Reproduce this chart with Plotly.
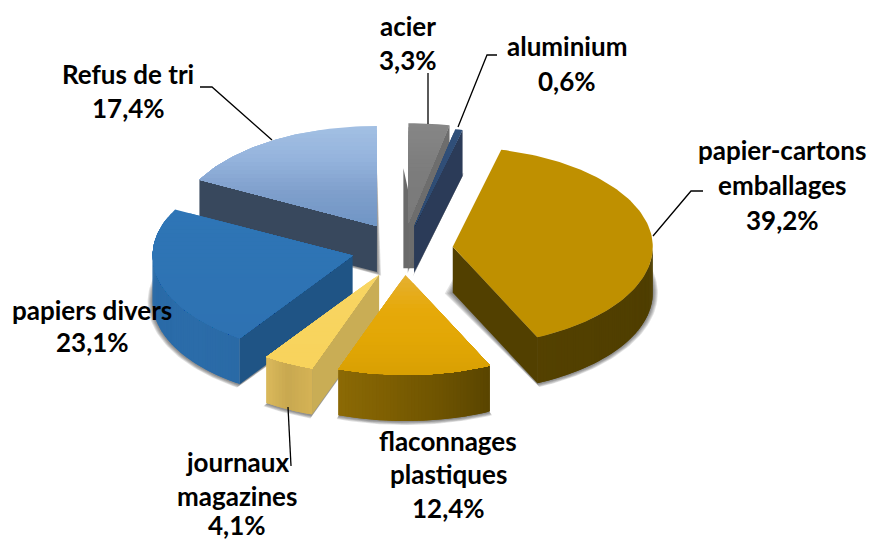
import math
import plotly.graph_objects as go

# ---- data ----
categories = ["acier", "aluminium", "papier-cartons emballages", "flaconnages plastiques",
              "journaux magazines", "papiers divers", "Refus de tri"]
values = [3.3, 0.6, 39.2, 12.4, 4.1, 23.1, 17.4]
pulls = [52, 45, 48, 52, 57, 54, 54]

# ---- label layout: lines of name, then centre x and the y of each line ----
label_lines = [["acier"], ["aluminium"], ["papier-cartons", "emballages"], ["flaconnages", "plastiques"],
               ["journaux", "magazines"], ["papiers divers"], ["Refus de tri"]]
label_x = [408, 567, 782, 448, 237, 92, 128]
label_y = [[26, 60], [46, 81], [150, 185, 220], [441, 474, 508], [462, 496, 525], [310, 342], [74, 108]]
leaders = [[(428, 73), (428, 124)], [(497, 55), (487, 55), (458, 127)], [(703, 191), (691, 191), (653, 236)],
           [(288, 407), (291, 466)], [(200, 87), (212, 87), (272, 140)]]

# ---- styling: projection and colours ----
W, H = 872, 542
CX, CY, RX, RY, DEPTH = 405, 249, 200, 100, 46
nudge_x = [-2, -1, 0, -2, 0, 0, 0]
top_stops = [["#868686", "#7c7c7c", "#7a7a7a"], ["#30507a", "#2f4a70"], ["#bf9000", "#bf9000"],
             ["#e5b030", "#e6a90a", "#e2a705", "#d9a003"], ["#f8d562", "#f8d35c"], ["#2e75b6", "#2e72b2"],
             ["#a2bfe3", "#94b3dc", "#7f9fcc", "#7096c5"]]
wall_stops = [["#6a6a6a", "#6a6a6a"], ["#2b3b58", "#2b3b58"], ["#544100", "#4f3e00"],
              ["#8c6a05", "#7e5f02", "#6f5401", "#5a4500"], ["#dcbb5c", "#c8a850", "#d4b255"],
              ["#2a6ba8", "#2b6ca9", "#2a6aa6"], ["#3a4a60", "#3a4a60"]]
cut_colors = ["#6d6d6d", "#2b3b58", "#524000", "#6a5000", "#c9ad55", "#1f5485", "#38485d"]
BACK_STRIP = 5  # acier's far wall peeking out to its left


def hex2rgb(c):
    return [int(c[i:i + 2], 16) for i in (1, 3, 5)]


def ramp(stops, t):
    t = min(max(t, 0), 1) * (len(stops) - 1)
    i = min(int(t), len(stops) - 2)
    a, b = hex2rgb(stops[i]), hex2rgb(stops[i + 1])
    f = t - i
    return "rgb(%d,%d,%d)" % tuple(round(a[k] + (b[k] - a[k]) * f) for k in range(3))


def pt(cx, cy, th, rx=RX, ry=RY):
    r = math.radians(th)
    return cx + rx * math.sin(r), cy - ry * math.cos(r)


def clip_below(poly, y0):
    out = []
    for i, p in enumerate(poly):
        q = poly[(i + 1) % len(poly)]
        if p[1] >= y0:
            out.append(p)
        if (p[1] >= y0) != (q[1] >= y0):
            f = (y0 - p[1]) / (q[1] - p[1])
            out.append((p[0] + (q[0] - p[0]) * f, y0))
    return out


fig = go.Figure()


def fill(poly, color, opacity=1.0):
    xs = [p[0] for p in poly] + [poly[0][0]]
    ys = [p[1] for p in poly] + [poly[0][1]]
    fig.add_trace(go.Scatter(x=xs, y=ys, mode="lines", fill="toself", fillcolor=color, opacity=opacity,
                             line=dict(width=0, color=color), hoverinfo="skip", showlegend=False))


total = sum(values)
slices = []
a = 0.0
for i, v in enumerate(values):
    b = a + 360 * v / total
    mid = math.radians((a + b) / 2)
    cx = CX + pulls[i] * math.sin(mid) + nudge_x[i]
    cy = CY - pulls[i] * 0.5 * math.cos(mid)
    slices.append((cy, i, a, b, cx))
    a = b

for cy, i, a, b, cx in sorted(slices):
    n = max(int((b - a) / 1.5), 2)
    arc = [a + (b - a) * k / n for k in range(n + 1)]
    # soft shadow round the bottom outline
    mid = math.radians((a + b) / 2)
    for e in (5, 4, 3, 2, 1):
        sx, sy = cx - e * 1.6 * math.sin(mid), cy + DEPTH + e * 0.8 * math.cos(mid) + 0.5
        poly = [(sx, sy)] + [pt(cx, cy + DEPTH + 0.5, t, RX + e, RY + e * 0.7) for t in arc]
        fill(poly, "#303030", 0.14)
    # acier's far wall
    if i == 0:
        fill([(cx - BACK_STRIP, cy - 55), (cx - BACK_STRIP, cy + DEPTH - 1), (cx + 7, cy + DEPTH - 1), (cx + 7, cy)],
             wall_stops[0][0])
    # visible cut faces
    if 180 < a < 360:
        p = pt(cx, cy, a)
        fill([(cx, cy), p, (p[0], p[1] + DEPTH), (cx, cy + DEPTH)], cut_colors[i])
    if math.sin(math.radians(b)) > 0:
        p = pt(cx, cy, b)
        fill([(cx, cy), p, (p[0], p[1] + DEPTH), (cx, cy + DEPTH)], cut_colors[i])
    # outer wall, front half only
    s, e = max(a, 90), min(b, 270)
    if e > s:
        m = max(int((e - s) / 1.0), 1)
        wa = [s + (e - s) * k / m for k in range(m + 1)]
        x0, x1 = pt(cx, cy, s)[0], pt(cx, cy, e)[0]
        for k in range(m):
            p0, p1 = pt(cx, cy, wa[k]), pt(cx, cy, min(wa[k + 1] + 1.0, e))
            t = (p0[0] - min(x0, x1)) / (abs(x1 - x0) or 1)
            fill([p0, p1, (p1[0], p1[1] + DEPTH), (p0[0], p0[1] + DEPTH)], ramp(wall_stops[i], t))
    # top face with a vertical gradient
    top = [(cx, cy)] + [pt(cx, cy, t) for t in arc]
    ymin, ymax = min(p[1] for p in top), max(p[1] for p in top)
    bands = 1 if top_stops[i][0] == top_stops[i][-1] else max(int((ymax - ymin) / 4), 2)
    for k in range(bands):
        y0 = ymin + (ymax - ymin) * k / bands
        poly = clip_below(top, y0) if k else top
        fill(poly, ramp(top_stops[i], k / max(bands - 1, 1)))

for pts in leaders:
    fig.add_trace(go.Scatter(x=[p[0] for p in pts], y=[p[1] for p in pts], mode="lines",
                             line=dict(color="#000000", width=1.3), hoverinfo="skip", showlegend=False))

font = dict(family="Lato, Carlito, Calibri, sans-serif", size=26, color="#000000")
for i, v in enumerate(values):
    lines = label_lines[i] + [f"{v:.1f}".replace(".", ",") + "%"]
    for txt, y in zip(lines, label_y[i]):
        fig.add_annotation(x=label_x[i], y=y, xref="x", yref="y", text=f"<b>{txt}</b>", showarrow=False,
                           font=font, xanchor="center", yanchor="middle")

fig.update_xaxes(range=[0, W], visible=False, fixedrange=True)
fig.update_yaxes(range=[H, 0], visible=False, fixedrange=True)
fig.update_layout(width=W, height=H, margin=dict(l=0, r=0, t=0, b=0), paper_bgcolor="white",
                  plot_bgcolor="white", showlegend=False, hovermode=False)
fig.write_html("out.html", config={"displayModeBar": False},
               post_script="document.body.style.margin='0';")
